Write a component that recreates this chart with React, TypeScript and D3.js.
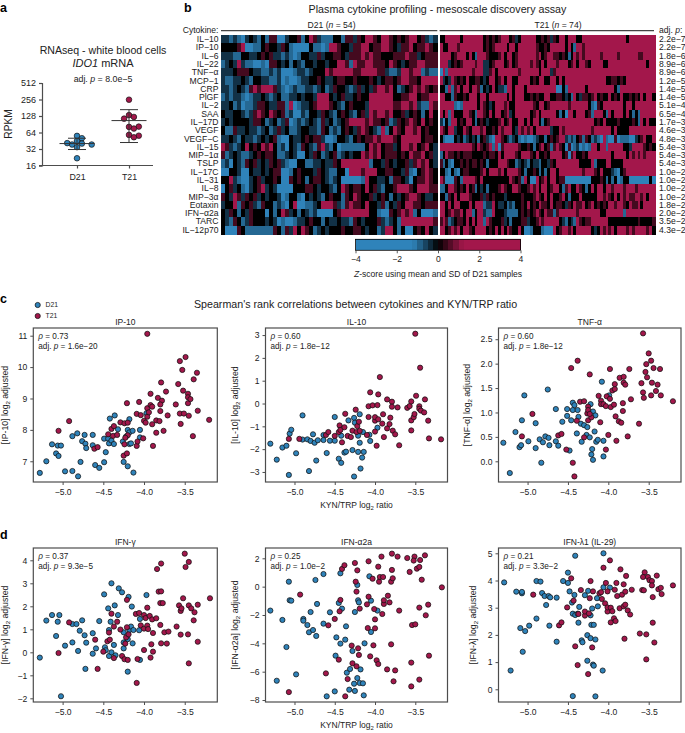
import React, { useEffect, useRef } from 'react';
import * as d3 from 'd3';

type Pt = [number, number];
type Run = string | [string, 'i' | 'sub'];

// panel a, RPKM values
const groups = ['D21', 'T21'];
const d21Rpkm = [21.7, 55.5, 50.3, 44.9, 40.2, 38.6, 41, 38.6, 34.6];
const t21Rpkm = [254, 133, 123, 114.6, 81, 82, 75.6, 57.9, 56, 52.4];
const rpkmTicks = [16, 32, 64, 128, 256, 512];
// mean, lower, upper
const d21Summary = [40.2, 31.3, 50.3];
const t21Summary = [105.6, 42, 167];

// panel b
const cytokines = ['IL\u221210', 'IP\u221210', 'IL\u22126', 'IL\u221222', 'TNF\u2212\u03b1', 'MCP\u22121', 'CRP', 'PlGF', 'IL\u22122', 'SAA', 'IL\u221217D', 'VEGF', 'VEGF\u2212C', 'IL\u221215', 'MIP\u22121\u03b1', 'TSLP', 'IL\u221217C', 'IL\u221231', 'IL\u22128', 'MIP\u22123\u03b1', 'Eotaxin', 'IFN\u2212\u03b12a', 'TARC', 'IL\u221212p70'];
const adjP = ['2.2e\u22127', '2.2e\u22127', '1.8e\u22126', '8.9e\u22126', '8.9e\u22126', '1.2e\u22125', '1.4e\u22125', '1.4e\u22125', '5.1e\u22124', '6.5e\u22124', '1.7e\u22123', '4.6e\u22123', '4.8e\u22123', '5.4e\u22123', '5.4e\u22123', '5.4e\u22123', '1.0e\u22122', '1.0e\u22122', '1.0e\u22122', '1.0e\u22122', '1.8e\u22122', '2.0e\u22122', '3.5e\u22122', '4.3e\u22122'];
// binned z-score per sample, read by eye: digit is an index into levelZ
const levelZ = [-3, -0.95, -0.45, 0, 0.5, 2.5];
const heatD21 = [
  '2212102321 3144002334 1354211133 1442435543 5543434553 4212',
  '3333450011 3433243100 0031101554 3324455344 5543244534 4543',
  '2221133223 4342212101 3322423344 3244454544 3334445442 3444',
  '1232521100 1044323132 1332332335 5415445544 4354323445 5444',
  '2223444322 1121200012 2123335455 5554455554 4211255455 1211',
  '2112232133 2211201001 2233432234 4334333432 3443455443 5555',
  '2212321454 5554210121 1221231243 3212423245 5453123454 5434',
  '1212210122 3212311223 2332555323 4223433555 5553344553 4455',
  '2231201124 4322441501 2234555432 1343332555 5554455452 1154',
  '3223321245 4354341200 2133243213 4321342545 5453342343 1353',
  '2323333244 3123124012 1232142312 3455554544 3412434543 5343',
  '3114223221 2312423112 3322143121 3432454321 5135435545 3433',
  '2232132212 3234100322 3434420013 3213434454 5554355555 3443',
  '5421235343 5453120321 4321452130 1111113545 3442355453 4532',
  '4123211234 3443112320 0324312341 2323354545 3444343544 5342',
  '1203214342 3243421003 3112232243 5555555133 2432334245 4532',
  '0033200322 3234400134 3332432113 3055545553 3443324103 4543',
  '3352100234 2334300434 3134432123 0000015332 2314432034 4543',
  '0342310234 5232000033 3443233213 5434435342 1334555435 5544',
  '4325424342 3233201331 0323213433 1435433423 4313234554 3223',
  '2335143421 4331210350 0112355542 1454435332 4132435544 3444',
  '3243132433 3031354231 3212000034 5555555331 0043454513 0001',
  '3214312433 3232010012 2343313223 2214323334 2123155555 5554',
  '3000431111 1114314253 5431232333 4334432331 2553130034 3532',
];
const heatT21 = [
  '3355555355 5555534343 4555342355 5553343424 3553555335 5555555555 5555355555 5555',
  '5335554555 5555534345 5553553555 5554334355 5553531554 5555555555 5555555555 5555',
  '5555345553 5315554333 4535534555 5554534554 4343135454 5555545555 5455555544 5555',
  '5552343455 5545522345 5534534555 5454353555 4555345355 4355553355 5555555555 5355',
  '0515555555 5455522453 5555555455 5555355524 5555555555 5555555555 5555555555 5555',
  '5232543435 3344323553 4535533555 5343553355 3535555555 5555555334 4343555555 5555',
  '3315145355 3554132353 2215535553 5555555555 0031555555 3555555555 3155555555 5555',
  '5533143343 5553553555 5553535553 3434335533 4432315324 4345343353 4353343435 3553',
  '5555510155 5553543235 5545335555 5543553455 5555455555 5310435555 5553553555 5555',
  '5351533355 4315543535 5345235555 5345355555 3130553555 3415553153 5553531315 5555',
  '2031553435 5313432333 4534533553 5355313455 5555555555 5553435333 3433334315 3533',
  '5435523354 3555453343 5455532545 4535555523 3545555555 5545555553 5333355555 5555',
  '3100032312 3231342105 5432123101 0012331343 4552121341 4312105100 4011100234 5335',
  '5555555555 5435434515 0455555433 4313453414 5430401201 0155355155 5553325555 4343',
  '1354434344 4333343443 5355554355 5435334355 5534045334 3555555553 5555354545 4555',
  '4131033434 3443431333 5554331232 1322133243 5555555533 3351333553 3335555555 5555',
  '3310310344 3333453555 4535555431 3343131355 3555555554 5554353332 1034555555 5555',
  '5400043155 5543533333 3333543415 3005345355 3440000000 0033343131 3013300000 0030',
  '1135543435 3413231333 4543355433 4545355345 5314533543 1353553554 5554555455 5555',
  '3314353555 4333424343 3323333343 3345435353 3453133353 3333554543 5354544554 5355',
  '5535355333 5355512253 2231213343 5343544353 4432435445 3453434355 4554354453 5555',
  '5534544535 5135521153 3321111343 4345435441 4555555455 5555533555 5551555555 5555',
  '4541234435 3535515433 3423133344 2334545555 5321321543 4455555533 3333333343 3334',
  '5534545355 4355553435 3535433530 0133310005 3455453555 5532354545 3555454555 5453',
];
const colorbarTicks = [-4, -2, 0, 2, 4];

// panel c, x is KYN/TRP log2 ratio
const ip10D21: Pt[] = [[-5.28,6.63],[-5.2,7],[-5.13,7.54],[-5.08,7.25],[-5.06,7.5],[-5.02,7.5],[-5.05,7.17],[-4.97,6.68],[-4.88,6.69],[-4.81,6.52],[-4.78,6.98],[-4.88,7.8],[-4.82,7.89],[-4.76,7.64],[-4.73,7.84],[-4.72,7.56],[-4.71,7.42],[-4.63,7.84],[-4.63,7.51],[-4.6,6.88],[-4.55,6.79],[-4.49,6.97],[-4.47,7.29],[-4.49,7.72],[-4.44,7.72],[-4.43,7.57],[-4.4,7.66],[-4.37,7.55],[-4.42,8.36],[-4.36,8.46],[-4.32,8.02],[-4.25,6.98],[-4.2,6.84],[-4.13,6.64],[-4.26,7.63],[-4.2,8],[-4.18,8.34],[-4.22,7.79],[-4.18,7.55],[-4.16,7.57],[-4.18,7.92],[-4.14,7.97],[-4.05,8],[-4.05,7.76],[-3.97,8.53]];
const ip10T21: Pt[] = [[-4.92,8.28],[-5.05,7.97],[-4.61,7.4],[-4.57,7.45],[-4.44,7.86],[-4.4,8.03],[-4.38,7.81],[-4.37,8.12],[-4.33,7.84],[-4.29,8.24],[-4.24,8.21],[-4.2,8.23],[-4.21,8.85],[-4.2,7.83],[-4.23,7.75],[-4.24,7.54],[-4.25,7.18],[-4.21,7.25],[-4.09,7.49],[-4.08,7.63],[-4.09,8.51],[-4.06,8.89],[-4.04,8.47],[-4.01,7.73],[-4,8.29],[-3.98,8.23],[-3.96,8.69],[-3.96,8.42],[-3.94,8.56],[-3.92,8.79],[-3.9,8.74],[-3.92,9.15],[-3.9,8.18],[-3.96,11.06],[-3.89,7.49],[-3.85,8.3],[-3.85,7.91],[-3.81,8.28],[-3.83,9.02],[-3.78,8.93],[-3.8,8.6],[-3.8,8.81],[-3.79,9.51],[-3.76,7.97],[-3.73,9.22],[-3.71,8.46],[-3.61,8.81],[-3.58,9.46],[-3.56,10.19],[-3.56,8.52],[-3.55,8.19],[-3.53,9.91],[-3.52,9.25],[-3.51,8.52],[-3.49,10.32],[-3.46,9.15],[-3.46,9.04],[-3.46,8.85],[-3.45,8.45],[-3.43,8.98],[-3.4,7.8],[-3.39,9.61],[-3.35,9.82],[-3.34,8.61],[-3.2,8.32]];
const il10D21: Pt[] = [[-5.3,-1.76],[-5.22,-2.46],[-5.15,-1.93],[-5.1,-1.85],[-5.06,-1.32],[-5.04,-1.15],[-5.07,-3.13],[-4.98,-2.18],[-4.9,-0.52],[-4.9,-1.58],[-4.84,-1.57],[-4.82,-2.96],[-4.8,-1.64],[-4.77,-1.35],[-4.75,-1.72],[-4.73,-2.5],[-4.71,-1.61],[-4.64,-1.6],[-4.64,-1.38],[-4.6,-2.17],[-4.56,-1.63],[-4.5,-0.59],[-4.5,-1.63],[-4.45,-2.42],[-4.42,-2.6],[-4.42,-1.41],[-4.38,-2.15],[-4.36,-2.11],[-4.33,-0.74],[-4.28,-2.04],[-4.26,-0.63],[-4.26,-3.2],[-4.25,-0.84],[-4.21,-2.12],[-4.21,-1.41],[-4.19,-0.47],[-4.19,-1.72],[-4.18,-2.85],[-4.16,-2.37],[-4.14,-2.12],[-4.15,-1.25],[-4.07,-1.37],[-4.06,-1.64],[-3.97,-1.06]];
const il10T21: Pt[] = [[-5.07,-1.55],[-4.94,-1.55],[-4.61,-1.38],[-4.58,-1.25],[-4.5,-1.42],[-4.44,-0.96],[-4.45,-1.25],[-4.43,-1.16],[-4.41,-1.7],[-4.38,-1.04],[-4.37,-0.45],[-4.34,-1.42],[-4.3,-1.47],[-4.28,-1.19],[-4.24,-0.27],[-4.22,-0.99],[-4.23,-1.25],[-4.2,-0.8],[-4.19,-1.2],[-4.1,-1.38],[-4.08,-0.12],[-4.08,-0.59],[-4.03,-0.08],[-4.06,0.49],[-4,-1.23],[-4,-0.75],[-4,-0.6],[-3.97,-0.07],[-3.96,0.4],[-3.98,-1.85],[-3.96,-0.69],[-3.94,1.16],[-3.91,-0.88],[-3.9,-0.47],[-3.89,-1.47],[-3.85,0.18],[-3.85,-1.09],[-3.82,-0.9],[-3.81,-0.62],[-3.79,0.08],[-3.79,-0.14],[-3.78,-1.19],[-3.75,-1.35],[-3.72,-0.17],[-3.7,-1.83],[-3.6,-0.19],[-3.57,-0.11],[-3.55,0.09],[-3.55,-0.74],[-3.55,-1.18],[-3.52,-0.6],[-3.51,-0.46],[-3.5,3.06],[-3.49,0.34],[-3.45,-0.12],[-3.45,-0.23],[-3.44,1.57],[-3.43,-0.31],[-3.39,-0.39],[-3.38,0.18],[-3.34,-0.75],[-3.33,-1.53],[-3.18,-1.57]];
const tnfD21: Pt[] = [[-5.3,0.38],[-5.22,-0.24],[-5.15,0.6],[-5.1,0.29],[-5.08,0.33],[-5.07,0.84],[-5.04,1.35],[-4.99,0.41],[-4.9,0.78],[-4.9,0.27],[-4.85,0.45],[-4.83,-0.03],[-4.81,0.39],[-4.78,0.51],[-4.75,1.47],[-4.74,0.48],[-4.73,0.33],[-4.65,0.41],[-4.65,1.07],[-4.62,0.32],[-4.57,0.81],[-4.51,1.07],[-4.51,0.93],[-4.48,0.22],[-4.46,0.84],[-4.44,1.2],[-4.44,1.05],[-4.42,1.15],[-4.39,0.57],[-4.38,1.05],[-4.37,0.91],[-4.34,0.77],[-4.33,0.4],[-4.3,0.74],[-4.27,0.54],[-4.26,0.7],[-4.23,0.49],[-4.22,1.17],[-4.21,0.14],[-4.2,0.25],[-4.19,0.03],[-4.19,1.02],[-4.17,0.61],[-4.16,0.94],[-4.15,0.4],[-4.13,0.44],[-4.08,1.63],[-4.06,0.1],[-4.06,0.42],[-3.99,1.35]];
const tnfT21: Pt[] = [[-5.07,0.51],[-4.94,0.97],[-4.62,0.53],[-4.58,0.56],[-4.52,0.24],[-4.46,1.91],[-4.44,-0.03],[-4.42,-0.31],[-4.39,0.83],[-4.38,2.06],[-4.35,1.22],[-4.3,1.23],[-4.3,0.49],[-4.26,0.98],[-4.25,1.12],[-4.25,1.05],[-4.25,0.84],[-4.23,1.78],[-4.21,0.9],[-4.23,0.97],[-4.12,1.34],[-4.1,0.8],[-4.09,1.24],[-4.09,1.17],[-4.06,1.17],[-4.03,1.13],[-4.03,0.24],[-4.02,1.33],[-4,0.54],[-3.98,1.28],[-3.98,1.89],[-3.97,1.11],[-3.95,1.45],[-3.92,1.48],[-3.93,1.16],[-3.92,1.58],[-3.91,0.92],[-3.9,0.42],[-3.86,1.71],[-3.87,0.82],[-3.84,0.79],[-3.82,1.19],[-3.82,1.03],[-3.81,1.73],[-3.81,1.61],[-3.79,1.57],[-3.76,0.51],[-3.74,1.89],[-3.72,1.27],[-3.62,0.77],[-3.59,1.6],[-3.57,2.62],[-3.57,1.41],[-3.56,1.3],[-3.54,1.83],[-3.53,1.99],[-3.52,1.72],[-3.5,2.21],[-3.47,2.06],[-3.47,1.35],[-3.46,1.61],[-3.44,1.91],[-3.41,1.44],[-3.39,1.57],[-3.36,1.89],[-3.35,1.35],[-3.2,1.23]];
// panel d
const ifngD21: Pt[] = [[-5.28,-0.23],[-5.2,1.38],[-5.13,1.62],[-5.08,0.71],[-5.06,1.33],[-5.04,1.62],[-5.02,-1.91],[-4.97,0.29],[-4.88,0.43],[-4.88,1.23],[-4.83,1.23],[-4.81,0.06],[-4.79,0.94],[-4.76,1.39],[-4.73,0.74],[-4.72,-0.72],[-4.71,0.42],[-4.63,0.83],[-4.63,-0.06],[-4.59,0.17],[-4.55,1.36],[-4.49,2.52],[-4.48,0.22],[-4.47,0.09],[-4.44,1.91],[-4.43,-0.16],[-4.43,0.97],[-4.41,1.33],[-4.4,3],[-4.4,0],[-4.37,0.32],[-4.36,2.04],[-4.35,-0.13],[-4.32,1.62],[-4.31,2.78],[-4.27,2.61],[-4.25,0.87],[-4.25,0.17],[-4.25,0.43],[-4.2,-0.84],[-4.19,2.41],[-4.2,0.57],[-4.18,0.97],[-4.16,1.12],[-4.15,1.99],[-4.14,0.39],[-4.13,0.97],[-4.06,0.96],[-4.05,1.45],[-4.05,-0.33],[-3.97,2.49]];
const ifngT21: Pt[] = [[-5.05,-0.03],[-4.92,1.3],[-4.6,0.55],[-4.57,-0.72],[-4.5,0.03],[-4.45,0.48],[-4.42,0.55],[-4.43,0.86],[-4.4,1.68],[-4.37,-0.25],[-4.37,1.12],[-4.33,1.33],[-4.29,0.99],[-4.27,-0.16],[-4.24,-0.3],[-4.23,0.38],[-4.22,0.65],[-4.21,2.28],[-4.21,1.09],[-4.2,-0.33],[-4.19,0.78],[-4.1,1.67],[-4.09,-1.33],[-4.08,-0.29],[-4.06,1.71],[-4.04,1.17],[-4,1.62],[-4,1.03],[-4,0.1],[-3.98,1.49],[-3.96,1.16],[-3.95,1.01],[-3.96,1.94],[-3.93,1.58],[-3.92,-0.23],[-3.9,1.43],[-3.91,0.35],[-3.89,0.84],[-3.89,0.03],[-3.85,1.48],[-3.84,3.62],[-3.82,2.64],[-3.8,1.19],[-3.8,2.14],[-3.79,2.65],[-3.79,3.86],[-3.79,0.39],[-3.77,2.14],[-3.75,0.87],[-3.72,0.38],[-3.7,0.9],[-3.6,1.12],[-3.57,2.04],[-3.55,0.77],[-3.55,1.8],[-3.54,1.91],[-3.52,2.35],[-3.5,4.29],[-3.49,3.71],[-3.45,2.04],[-3.46,0.78],[-3.45,3.93],[-3.45,-0.48],[-3.42,1.91],[-3.39,1.39],[-3.38,1.74],[-3.34,2.07],[-3.34,0.46],[-3.19,2.35]];
const ifnaD21: Pt[] = [[-5.3,-1.69],[-5.22,-6.64],[-5.15,-2.35],[-5.1,-4.26],[-5.07,0.35],[-5.06,-0.96],[-5.04,-0.99],[-4.98,-6.19],[-4.89,-2.28],[-4.89,-2.4],[-4.84,-2.71],[-4.82,-3.22],[-4.8,-1.79],[-4.77,-3.06],[-4.74,0.47],[-4.73,-3.48],[-4.72,-1.22],[-4.64,-2.61],[-4.64,0.89],[-4.6,-7.74],[-4.56,-1.81],[-4.5,-7.39],[-4.49,-4.87],[-4.48,-3.58],[-4.45,-1.15],[-4.43,0.94],[-4.43,-4.02],[-4.41,-1.55],[-4.37,-3.74],[-4.36,-2.8],[-4.35,-6.07],[-4.32,-7.27],[-4.31,-5.81],[-4.28,-4.54],[-4.26,-6.85],[-4.25,-7.36],[-4.25,-1.79],[-4.22,-6.45],[-4.22,0.12],[-4.21,-0.96],[-4.2,-1.11],[-4.18,-5.84],[-4.19,-6.8],[-4.15,-6.82],[-4.14,-7.67],[-4.13,-4],[-4.07,0.73],[-4.05,-0.99],[-4.05,-3.2],[-3.97,-1.69]];
const ifnaT21: Pt[] = [[-5.07,-7.44],[-4.93,-0.56],[-4.61,-6.12],[-4.58,-2.73],[-4.5,-2.28],[-4.45,-5.15],[-4.44,-1.74],[-4.43,-0.94],[-4.41,1.25],[-4.38,1.51],[-4.37,-7.74],[-4.34,-6.52],[-4.29,-4.16],[-4.28,-5.41],[-4.25,1.67],[-4.24,0.35],[-4.23,-5.62],[-4.23,-0.35],[-4.22,1.15],[-4.21,-4.35],[-4.2,-4.82],[-4.19,-1.55],[-4.1,-1.25],[-4.09,-2.92],[-4.08,1.79],[-4.08,-0.71],[-4.06,-4.92],[-4.03,0.56],[-4.02,-4.14],[-4.01,-1.58],[-4,-2.94],[-4,-2.31],[-3.98,-5.2],[-3.96,-5.46],[-3.96,1.41],[-3.95,0.35],[-3.94,0.68],[-3.92,2.12],[-3.9,0.68],[-3.91,-1.93],[-3.89,-1.22],[-3.89,-0.96],[-3.85,-5.84],[-3.84,-0.64],[-3.82,-1.11],[-3.8,-4.07],[-3.8,0.35],[-3.79,1.18],[-3.78,0.59],[-3.79,2.33],[-3.77,-6.68],[-3.75,-5.91],[-3.72,2.12],[-3.7,-1.69],[-3.6,2.02],[-3.57,1.04],[-3.55,-5.36],[-3.55,-7.04],[-3.54,-2.71],[-3.51,2.12],[-3.52,1.84],[-3.5,-2.66],[-3.48,1.27],[-3.45,1.39],[-3.45,-1.48],[-3.45,-6.56],[-3.44,1.88],[-3.42,0.49],[-3.38,2.21],[-3.37,-2.02],[-3.34,-1.27],[-3.33,-4.87],[-3.17,-0.05]];
const ifnlD21: Pt[] = [[-5.29,3.93],[-5.21,0.69],[-5.14,3.59],[-5.09,2.25],[-5.07,3.53],[-5.07,3.58],[-5.06,1.38],[-5.03,2.14],[-4.98,2.34],[-4.89,2.6],[-4.89,3.98],[-4.84,3.96],[-4.82,3.54],[-4.79,3.43],[-4.77,3.1],[-4.74,3.43],[-4.73,2.34],[-4.72,3.38],[-4.64,1.75],[-4.64,3.37],[-4.56,3.98],[-4.5,4.29],[-4.5,3.91],[-4.48,3.6],[-4.45,3.19],[-4.44,-0.25],[-4.44,2.78],[-4.42,3.47],[-4.41,4.91],[-4.41,2.73],[-4.38,2.78],[-4.37,2.45],[-4.36,3.03],[-4.33,1.8],[-4.32,1.73],[-4.29,3.46],[-4.26,1.05],[-4.26,1.99],[-4.25,3.62],[-4.22,1.88],[-4.22,2.72],[-4.21,2.37],[-4.2,2.97],[-4.19,0.91],[-4.18,0.87],[-4.18,2.37],[-4.16,-0.26],[-4.16,1.83],[-4.14,3.35],[-4.13,3.05],[-4.07,0.69],[-4.06,5],[-4.06,3.75],[-3.98,3.74]];
const ifnlT21: Pt[] = [[-4.93,3.48],[-4.61,2.35],[-4.58,2.46],[-4.51,3.01],[-4.46,4.08],[-4.43,3.26],[-4.41,1.58],[-4.38,0.89],[-4.37,2.77],[-4.34,3.65],[-4.29,2.71],[-4.29,2.86],[-4.25,0.56],[-4.24,2.79],[-4.23,3.35],[-4.22,3.98],[-4.2,1.54],[-4.19,3.6],[-4.11,3.53],[-4.09,3.57],[-4.08,3.32],[-4.06,4.47],[-4.04,3.16],[-4.03,3.91],[-4.01,2.86],[-4.01,3.6],[-4.01,3.01],[-3.98,4.74],[-3.97,3],[-3.97,2.46],[-3.95,2.87],[-3.93,2.61],[-3.92,3.66],[-3.91,2.51],[-3.9,3.91],[-3.89,3.43],[-3.85,4.41],[-3.86,2.98],[-3.83,3.48],[-3.81,3.86],[-3.81,3.05],[-3.8,1.86],[-3.79,3.59],[-3.79,3.11],[-3.78,4.17],[-3.76,2.9],[-3.73,2.75],[-3.71,3.66],[-3.61,2.05],[-3.58,3.65],[-3.56,3.64],[-3.55,4.3],[-3.57,4.13],[-3.53,2.02],[-3.53,1.1],[-3.51,4.13],[-3.49,4.01],[-3.46,3.98],[-3.46,3.82],[-3.45,3.39],[-3.45,2.45],[-3.43,1.72],[-3.4,4.18],[-3.38,3.68],[-3.35,3.73],[-3.34,3.5],[-3.2,3.82]];

const ratioTicks = [-5, -4.5, -4, -3.5];

const FONT = '"Liberation Sans", Arial, sans-serif';
const BLUE = '#2f83ba';
const RED = '#a3174b';
const AXIS = '#4d4d4d';
const TEXT = '#222';

type Sel = d3.Selection<any, any, any, any>;

// label with plain/italic/subscript runs
function rich(sel: Sel, parts: Run[]) {
  let lift = 0;
  parts.forEach(p => {
    const t = sel.append('tspan');
    if (lift) { t.attr('dy', lift); lift = 0; }
    if (typeof p === 'string') t.text(p);
    else if (p[1] === 'i') t.style('font-style', 'italic').text(p[0]);
    else {
      t.attr('dy', 2).style('font-size', '0.7em').text(p[0]);
      lift = -2;
    }
  });
  return sel;
}

function label(g: Sel, x: number, y: number, size: number, anchor = 'start') {
  return g.append('text').attr('x', x).attr('y', y)
    .attr('font-size', size).attr('text-anchor', anchor).attr('fill', TEXT);
}

// beeswarm offsets in px so the dots of a group do not sit on each other
function swarm(ys: number[], gap: number, minDist: number) {
  const placed: Pt[] = [];
  return ys.map(y => {
    for (let k = 0; ; k++) {
      const dx = k === 0 ? 0 : (k % 2 ? 1 : -1) * Math.ceil(k / 2) * gap;
      if (placed.every(p => Math.hypot(p[0] - dx, p[1] - y) >= minDist)) {
        placed.push([dx, y]);
        return dx;
      }
    }
  });
}

function drawPanelA(svg: Sel) {
  const g = svg.append('g');
  const y = d3.scaleLog().base(2).domain([16, 512]).range([165.5, 83]);
  const x = d3.scalePoint<string>().domain(groups).range([77, 129]);

  label(g, 103, 54, 10.6, 'middle').text('RNAseq - white blood cells');
  rich(label(g, 103, 67, 11, 'middle'), [['IDO1', 'i'], ' mRNA']);
  rich(label(g, 103, 82, 8.8, 'middle'), ['adj. ', ['p', 'i'], ' = 8.0e\u22125']);

  const yAxis = g.append('g').attr('transform', 'translate(42,0)')
    .call(d3.axisLeft(y).tickValues(rpkmTicks).tickFormat(d3.format('d') as any).tickSize(3).tickPadding(3));
  yAxis.selectAll('text').attr('font-size', 9).attr('font-family', FONT).attr('fill', TEXT);
  yAxis.selectAll('path,line').attr('stroke', AXIS).attr('stroke-width', 1.2);

  const xAxis = g.append('g').attr('transform', 'translate(0,165.5)')
    .call(d3.axisBottom(x).tickSize(3).tickPadding(5));
  xAxis.selectAll('text').attr('font-size', 8.8).attr('font-family', FONT).attr('fill', TEXT);
  xAxis.selectAll('line').attr('stroke', AXIS).attr('stroke-width', 1.2);
  xAxis.select('path').attr('d', 'M39,0H153').attr('stroke', AXIS).attr('stroke-width', 1.2);

  g.append('text').attr('transform', 'translate(12,124) rotate(-90)').attr('text-anchor', 'middle')
    .attr('font-size', 10.2).attr('fill', TEXT).text('RPKM');

  [
    { name: 'D21', vals: d21Rpkm, sum: d21Summary, fill: BLUE },
    { name: 'T21', vals: t21Rpkm, sum: t21Summary, fill: RED },
  ].forEach(s => {
    const cx = x(s.name)!;
    const offs = swarm(s.vals.map(v => y(v)), 4.9, 5);
    g.selectAll(null).data(s.vals).enter().append('circle')
      .attr('cx', (_, i) => cx + offs[i]).attr('cy', d => y(d)).attr('r', 2.8)
      .attr('fill', s.fill).attr('stroke', '#111').attr('stroke-width', 0.7);
    const [mean, lo, hi] = s.sum;
    const path = d3.path();
    path.moveTo(cx - 17.5, y(mean)); path.lineTo(cx + 17.5, y(mean));
    path.moveTo(cx - 9, y(lo)); path.lineTo(cx + 9, y(lo));
    path.moveTo(cx - 9, y(hi)); path.lineTo(cx + 9, y(hi));
    path.moveTo(cx, y(lo)); path.lineTo(cx, y(hi));
    g.append('path').attr('d', path.toString()).attr('stroke', '#333').attr('stroke-width', 1).attr('fill', 'none');
  });
}

function drawPanelB(svg: Sel) {
  const g = svg.append('g');
  const color = d3.scaleLinear<string>()
    .domain([-4, -1.2, 0, 1.2, 4])
    .range([BLUE, BLUE, '#000', RED, RED]);
  const rows = d3.scaleBand<number>().domain(d3.range(cytokines.length)).range([35, 234]);

  const blocks = [
    { data: heatD21, n: 54, range: [221, 437.3] },
    { data: heatT21, n: 74, range: [439.6, 655] },
  ];
  blocks.forEach(b => {
    const cols = d3.scaleBand<number>().domain(d3.range(b.n)).range(b.range as [number, number]);
    const block = g.append('g').attr('shape-rendering', 'crispEdges');
    b.data.forEach((row, r) => {
      const digits = row.replace(/ /g, '').split('').map(Number);
      block.append('g').selectAll('rect').data(digits).enter().append('rect')
        .attr('x', (_, i) => cols(i)!)
        .attr('y', rows(r)!)
        .attr('width', cols.bandwidth() + 0.6)
        .attr('height', rows.bandwidth() + 0.6)
        .attr('fill', d => color(levelZ[d]));
    });
  });

  cytokines.forEach((c, i) => {
    label(g, 218.5, rows(i)! + rows.bandwidth() / 2 + 2.9, 8.6, 'end').text(c);
    label(g, 659, rows(i)! + rows.bandwidth() / 2 + 2.9, 8.6).text(adjP[i]);
  });

  label(g, 437.5, 13, 10.7, 'middle').text('Plasma cytokine profiling - mesoscale discovery assay');
  label(g, 218.5, 33, 8.6, 'end').text('Cytokine:');
  rich(label(g, 659, 33, 8.6), ['adj. ', ['p', 'i'], ':']);
  rich(label(g, 331.5, 28, 8.6, 'middle'), ['D21 (', ['n', 'i'], ' = 54)']);
  rich(label(g, 558, 28, 8.6, 'middle'), ['T21 (', ['n', 'i'], ' = 74)']);
  g.append('path').attr('d', 'M221,30.7H437.3M439.6,30.7H654').attr('stroke', '#444').attr('stroke-width', 1.3);

  // colour bar
  const z = d3.scaleLinear().domain([-4, 4]).range([355.5, 520.5]);
  g.append('g').attr('shape-rendering', 'crispEdges').selectAll('rect').data(d3.range(-4, 4, 0.25)).enter().append('rect')
    .attr('x', d => z(d)).attr('y', 239.3).attr('width', z(0.25) - z(0) + 0.6).attr('height', 11)
    .attr('fill', d => color(d + 0.125));
  g.append('rect').attr('x', 355.5).attr('y', 239.3).attr('width', 165).attr('height', 11)
    .attr('fill', 'none').attr('stroke', '#000').attr('stroke-width', 0.8);
  const zAxis = g.append('g').attr('transform', 'translate(0,250.3)')
    .call(d3.axisBottom(z).tickValues(colorbarTicks).tickFormat(d3.format('d') as any).tickSize(3).tickPadding(3));
  zAxis.select('path').remove();
  zAxis.selectAll('line').attr('stroke', '#333').attr('stroke-width', 0.8);
  zAxis.selectAll('text').attr('font-size', 8.6).attr('font-family', FONT).attr('fill', TEXT);
  rich(label(g, 438, 277, 8.55, 'middle'), [['Z', 'i'], '-score using mean and SD of D21 samples']);
}

interface Scatter {
  title: string;
  yLabel: Run[];
  d21: Pt[];
  t21: Pt[];
  rho: string;
  p: string;
  xr: [number, number];
  yr: [number, number];
  yDomain: [number, number];
  yTicks: number[];
  yFmt: string;
  yLabelX: number;
  xLabel?: boolean;
}

function drawScatter(svg: Sel, s: Scatter) {
  const g = svg.append('g');
  const x = d3.scaleLinear().domain([-5.36, -3.1]).range(s.xr);
  const y = d3.scaleLinear().domain(s.yDomain).range(s.yr);
  const cx = (s.xr[0] + s.xr[1]) / 2;

  const xa = g.append('g').attr('transform', `translate(0,${s.yr[0]})`)
    .call(d3.axisBottom(x).tickValues(ratioTicks).tickFormat(d3.format('.1f') as any).tickSize(3).tickPadding(4));
  const ya = g.append('g').attr('transform', `translate(${s.xr[0]},0)`)
    .call(d3.axisLeft(y).tickValues(s.yTicks).tickFormat(d3.format(s.yFmt) as any).tickSize(3).tickPadding(3));
  [xa, ya].forEach(a => {
    a.select('path').remove();
    a.selectAll('line').attr('stroke', AXIS).attr('stroke-width', 1);
    a.selectAll('text').attr('font-size', 8.6).attr('font-family', FONT).attr('fill', TEXT);
  });

  const dots = (data: Pt[], fill: string) => g.append('g').selectAll('circle').data(data).enter().append('circle')
    .attr('cx', d => x(d[0])).attr('cy', d => y(d[1])).attr('r', 2.6)
    .attr('fill', fill).attr('stroke', '#111').attr('stroke-width', 0.75);
  dots(s.d21, BLUE);
  dots(s.t21, RED);

  g.append('rect').attr('x', s.xr[0]).attr('y', s.yr[1]).attr('width', s.xr[1] - s.xr[0]).attr('height', s.yr[0] - s.yr[1])
    .attr('fill', 'none').attr('stroke', AXIS).attr('stroke-width', 1.2);

  label(g, cx, s.yr[1] - 3.5, 8.5, 'middle').text(s.title);
  rich(label(g, s.xr[0] + 5, s.yr[1] + 10.5, 8.2), [['\u03c1', 'i'], ` = ${s.rho}`]);
  rich(label(g, s.xr[0] + 5, s.yr[1] + 20.5, 8.2), ['adj. ', ['p', 'i'], ` = ${s.p}`]);

  const yl = g.append('text')
    .attr('transform', `translate(${s.yLabelX},${(s.yr[0] + s.yr[1]) / 2}) rotate(-90)`)
    .attr('text-anchor', 'middle').attr('font-size', 8.7).attr('fill', TEXT);
  rich(yl, s.yLabel);

  if (s.xLabel) {
    rich(label(g, cx, s.yr[0] + 26, 8.5, 'middle'), ['KYN/TRP log', ['2', 'sub'], ' ratio']);
  }
}

const App: React.FC = () => {
  const svgRef = useRef<SVGSVGElement>(null);

  useEffect(() => {
    if (!svgRef.current) return;
    const svg = d3.select(svgRef.current) as unknown as Sel;
    svg.selectAll('*').remove();

    // panel letters
    [['a', 0, 12], ['b', 184, 12], ['c', 0, 303], ['d', 0, 539]].forEach(([t, x, y]) => {
      svg.append('text').attr('x', x as number).attr('y', y as number)
        .attr('font-size', 12.5).attr('font-weight', 'bold').attr('fill', '#000').text(t as string);
    });

    drawPanelA(svg);
    drawPanelB(svg);

    label(svg, 355.5, 308, 10.7, 'middle').text('Spearman\'s rank correlations between cytokines and KYN/TRP ratio');
    [{ cy: 305, fill: BLUE, t: 'D21' }, { cy: 316, fill: RED, t: 'T21' }].forEach(l => {
      svg.append('circle').attr('cx', 37.7).attr('cy', l.cy).attr('r', 2.6)
        .attr('fill', l.fill).attr('stroke', '#111').attr('stroke-width', 0.75);
      label(svg, 45.5, l.cy + 2.4, 6.8).text(l.t);
    });

    const log2Label = (name: string): Run[] => [`[${name}] log`, ['2', 'sub'], ' adjusted'];
    const rowC: [number, number] = [482, 328];
    const rowD: [number, number] = [702, 548];
    const col1: [number, number] = [33.3, 217.3];
    const col2: [number, number] = [265.5, 447.5];
    const col3: [number, number] = [498.5, 681];

    const panels: Scatter[] = [
      { title: 'IP-10', yLabel: log2Label('IP-10'), d21: ip10D21, t21: ip10T21, rho: '0.73', p: '1.6e\u221220', xr: col1, yr: rowC, yDomain: [6.34, 11.245], yTicks: [7, 8, 9, 10, 11], yFmt: 'd', yLabelX: 8 },
      { title: 'IL-10', yLabel: log2Label('IL-10'), d21: il10D21, t21: il10T21, rho: '0.60', p: '1.8e\u221212', xr: col2, yr: rowC, yDomain: [-3.44, 3.31], yTicks: [-3, -2, -1, 0, 1, 2, 3], yFmt: 'd', yLabelX: 238, xLabel: true },
      { title: 'TNF-\u03b1', yLabel: log2Label('TNF-\u03b1'), d21: tnfD21, t21: tnfT21, rho: '0.60', p: '1.8e\u221212', xr: col3, yr: rowC, yDomain: [-0.424, 2.73], yTicks: [0, 0.5, 1, 1.5, 2, 2.5], yFmt: '.1f', yLabelX: 470 },
      { title: 'IFN-\u03b3', yLabel: log2Label('IFN-\u03b3'), d21: ifngD21, t21: ifngT21, rho: '0.37', p: '9.3e\u22125', xr: col1, yr: rowD, yDomain: [-2.16, 4.535], yTicks: [-2, -1, 0, 1, 2, 3, 4], yFmt: 'd', yLabelX: 8 },
      { title: 'IFN-\u03b12a', yLabel: log2Label('IFN-\u03b12a'), d21: ifnaD21, t21: ifnaT21, rho: '0.25', p: '1.0e\u22122', xr: col2, yr: rowD, yDomain: [-8.14, 2.727], yTicks: [-8, -6, -4, -2, 0, 2], yFmt: 'd', yLabelX: 238, xLabel: true },
      { title: 'IFN-\u03bb1 (IL-29)', yLabel: log2Label('IFN-\u03bb'), d21: ifnlD21, t21: ifnlT21, rho: '0.21', p: '3.3e\u22122', xr: col3, yr: rowD, yDomain: [-0.467, 5.195], yTicks: [0, 1, 2, 3, 4, 5], yFmt: 'd', yLabelX: 476 },
    ];
    panels.forEach(p => drawScatter(svg, p));
  }, []);

  return (
    <svg
      ref={svgRef}
      width={685}
      height={733}
      style={{ position: 'absolute', left: 0, top: 0, fontFamily: FONT, background: '#fff' }}
    />
  );
};

export default App;
